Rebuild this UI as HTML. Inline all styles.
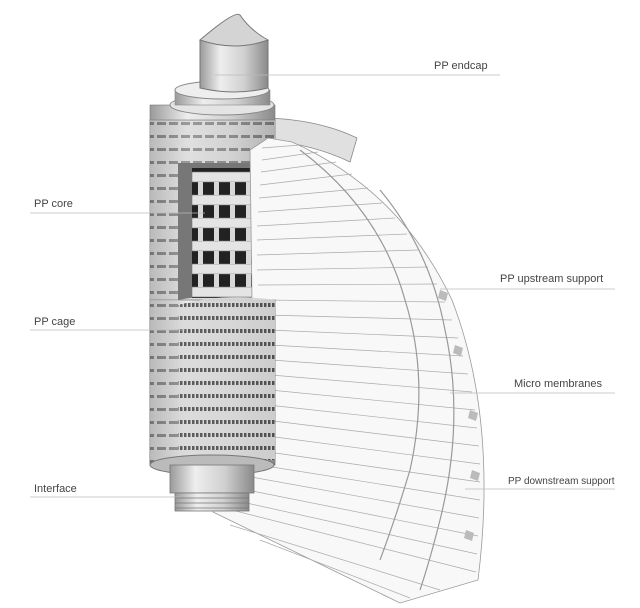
<!DOCTYPE html>
<html><head><meta charset="utf-8"><style>
body{margin:0;background:#fff}
svg{display:block}
text{font-family:"Liberation Sans",sans-serif;fill:#444;font-size:11px}
</style></head><body>
<svg width="640" height="608" viewBox="0 0 640 608">
<defs>
<linearGradient id="cyl" x1="0" x2="1">
<stop offset="0" stop-color="#9a9a9a"/><stop offset="0.3" stop-color="#eeeeee"/><stop offset="0.65" stop-color="#d0d0d0"/><stop offset="1" stop-color="#8a8a8a"/></linearGradient>
<pattern id="slots" width="12" height="13" patternUnits="userSpaceOnUse">
<rect width="12" height="13" fill="#d4d4d4"/>
<rect x="1" y="5" width="9" height="3" fill="#555"/>
</pattern>
<pattern id="rib" width="4" height="13" patternUnits="userSpaceOnUse">
<rect width="4" height="13" fill="#d8d8d8"/><rect x="0" y="4" width="2.5" height="4" fill="#444"/></pattern>
</defs>

<path d="M268,118 Q320,120 357,138 L350,162 Q315,145 268,140 Z" fill="#e0e0e0" stroke="#888" stroke-width="0.8"/>

<rect x="150" y="120" width="125" height="345" fill="url(#cyl)" stroke="#777" stroke-width="0.8"/>
<rect x="150" y="120" width="125" height="345" fill="url(#slots)" opacity="0.55"/>
<path d="M178,163 L260,163 L260,300 Q220,292 178,300 Z" fill="#777"/>
<rect x="192" y="168" width="68" height="130" fill="#222"/>
<g fill="#e4e4e4" stroke="#777" stroke-width="0.6">
<rect x="192" y="172" width="68" height="10"/><rect x="192" y="195" width="68" height="10"/>
<rect x="192" y="218" width="68" height="10"/><rect x="192" y="241" width="68" height="10"/>
<rect x="192" y="264" width="68" height="10"/><rect x="192" y="287" width="68" height="10"/>
</g>
<g fill="#d8d8d8">
<rect x="198" y="182" width="5" height="13"/><rect x="214" y="182" width="5" height="13"/><rect x="230" y="182" width="5" height="13"/><rect x="246" y="182" width="5" height="13"/>
<rect x="198" y="205" width="5" height="13"/><rect x="214" y="205" width="5" height="13"/><rect x="230" y="205" width="5" height="13"/><rect x="246" y="205" width="5" height="13"/>
<rect x="198" y="228" width="5" height="13"/><rect x="214" y="228" width="5" height="13"/><rect x="230" y="228" width="5" height="13"/><rect x="246" y="228" width="5" height="13"/>
<rect x="198" y="251" width="5" height="13"/><rect x="214" y="251" width="5" height="13"/><rect x="230" y="251" width="5" height="13"/><rect x="246" y="251" width="5" height="13"/>
<rect x="198" y="274" width="5" height="13"/><rect x="214" y="274" width="5" height="13"/><rect x="230" y="274" width="5" height="13"/><rect x="246" y="274" width="5" height="13"/>
</g>

<!-- pleated fan -->
<path d="M250,150 L268,138 L292,142 Q400,190 452,300 Q498,420 478,580 L400,603 L213,512 L213,500 Q270,440 265,330 L252,300 Z" fill="#f8f8f8" stroke="#999" stroke-width="0.8"/>
<g stroke="#aaa" stroke-width="0.7" fill="none">
<path d="M262,148 L300,145"/><path d="M262,160 L318,152"/><path d="M261,172 L336,162"/>
<path d="M260,185 L352,174"/><path d="M259,198 L368,188"/><path d="M258,212 L382,203"/>
<path d="M257,226 L395,218"/><path d="M257,240 L407,234"/><path d="M257,255 L418,250"/>
<path d="M257,270 L428,267"/><path d="M258,285 L437,284"/><path d="M262,300 L445,302"/>
<path d="M266,315 L452,320"/><path d="M268,330 L458,338"/><path d="M270,345 L463,356"/>
<path d="M271,360 L468,374"/><path d="M271,375 L472,392"/><path d="M270,390 L475,410"/>
<path d="M268,405 L477,428"/><path d="M265,420 L479,446"/><path d="M260,435 L480,464"/>
<path d="M254,450 L480,482"/><path d="M247,463 L480,500"/><path d="M240,475 L479,518"/>
<path d="M232,487 L478,536"/><path d="M224,498 L477,554"/><path d="M216,506 L476,572"/>
<path d="M230,525 L440,590"/><path d="M260,540 L410,598"/>
</g>
<g stroke="#999" stroke-width="1.2" fill="none">
<path d="M300,150 Q380,210 405,300 Q430,380 410,470 Q395,520 380,560"/>
<path d="M380,190 Q430,250 445,330 Q465,420 440,520 Q430,560 420,590"/>
</g>
<g fill="#bbb">
<path d="M440,290 l8,3 l-2,8 l-8,-3z"/><path d="M455,345 l8,3 l-2,8 l-8,-3z"/><path d="M470,410 l8,3 l-2,8 l-8,-3z"/><path d="M472,470 l8,3 l-2,8 l-8,-3z"/><path d="M466,530 l8,3 l-2,8 l-8,-3z"/>
</g>

<!-- cage lower part drawn over fan -->
<path d="M150,300 L275,300 L275,465 L150,465 Z" fill="url(#cyl)" stroke="#777" stroke-width="0.8"/>
<rect x="150" y="300" width="30" height="165" fill="url(#slots)" opacity="0.55"/>
<path d="M178,305 Q225,292 275,300 L275,460 L178,460 Z" fill="url(#rib)" opacity="0.85"/>

<ellipse cx="212" cy="465" rx="62" ry="10" fill="#bbb" stroke="#777"/>
<rect x="170" y="465" width="84" height="28" fill="url(#cyl)" stroke="#777" stroke-width="0.8"/>
<rect x="175" y="493" width="74" height="18" fill="url(#cyl)" stroke="#777" stroke-width="0.8"/>
<g stroke="#777" stroke-width="0.7"><line x1="175" y1="498" x2="249" y2="498"/><line x1="175" y1="503" x2="249" y2="503"/><line x1="175" y1="508" x2="249" y2="508"/></g>
<rect x="150" y="105" width="125" height="15" fill="url(#cyl)" stroke="#777" stroke-width="0.6"/>
<ellipse cx="222" cy="105" rx="52" ry="10" fill="#e4e4e4" stroke="#888"/>
<rect x="175" y="90" width="95" height="15" fill="url(#cyl)" stroke="#888" stroke-width="0.6"/>
<ellipse cx="222" cy="90" rx="47" ry="9" fill="#eee" stroke="#888"/>
<path d="M200,40 L200,88 Q235,96 268,88 L268,40 Z" fill="url(#cyl)" stroke="#777"/>
<path d="M200,40 Q235,10 240,15 Q250,30 268,40 Q235,52 200,40 Z" fill="#d4d4d4" stroke="#777"/>

<g stroke="#bbb" stroke-width="0.8">
<line x1="215" y1="75" x2="500" y2="75"/>
<line x1="30" y1="213" x2="205" y2="213"/>
<line x1="30" y1="330" x2="185" y2="330"/>
<line x1="30" y1="497" x2="180" y2="497"/>
<line x1="440" y1="289" x2="615" y2="289"/>
<line x1="450" y1="393" x2="615" y2="393"/>
<line x1="465" y1="489" x2="615" y2="489"/>
</g>
<text x="434" y="69">PP endcap</text>
<text x="34" y="207">PP core</text>
<text x="34" y="325">PP cage</text>
<text x="34" y="492">Interface</text>
<text x="500" y="282">PP upstream support</text>
<text x="514" y="387">Micro membranes</text>
<text x="508" y="484" style="font-size:10px">PP downstream support</text>
</svg>
</body></html>
